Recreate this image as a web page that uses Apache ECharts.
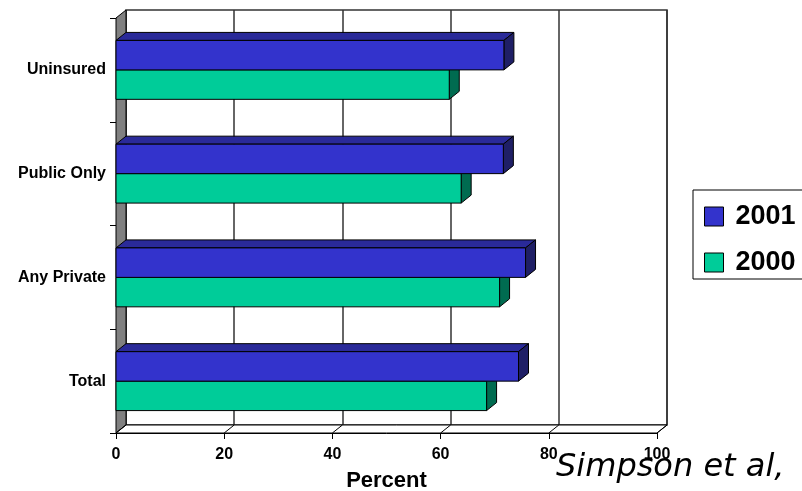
<!DOCTYPE html>
<html><head><meta charset="utf-8">
<script src="https://cdn.jsdelivr.net/npm/echarts@6/dist/echarts.min.js"></script>
<style>html,body{margin:0;padding:0;background:#fff}#c{width:802px;height:491px}</style>
</head><body><div id="c"></div>
<script>
// ---- data ----
const categories = ['Total', 'Any Private', 'Public Only', 'Uninsured'];
const values2001 = [74.4, 75.7, 71.6, 71.7];
const values2000 = [68.5, 70.9, 63.8, 61.6];
const xTicks = [0, 20, 40, 60, 80, 100];
const seriesNames = ['2001', '2000'];
const axisTitle = 'Percent';
const sourceNote = 'Simpson et al,';

// ---- style ----
const DX = 10, DY = -8;
const FONT = 'Liberation Sans, Arial, sans-serif';

function poly(points, fill) {
  return { type: 'polygon', shape: { points: points }, style: { fill: fill, stroke: '#000', lineWidth: 1 } };
}

function barRender(upper, cFront, cTop, cSide) {
  return function (params, api) {
    const v = api.value(0), cat = api.value(1);
    const p0 = api.coord([0, cat]);
    const p1 = api.coord([v, cat]);
    const band = api.size([0, 1])[1];
    const h = band * 0.284;
    const yTop = upper ? p0[1] - h : p0[1];
    const yBot = yTop + h;
    const x0 = p0[0], x1 = p1[0];
    return { type: 'group', children: [
      poly([[x0, yTop], [x1, yTop], [x1 + DX, yTop + DY], [x0 + DX, yTop + DY]], cTop),
      poly([[x1, yTop], [x1 + DX, yTop + DY], [x1 + DX, yBot + DY], [x1, yBot]], cSide),
      { type: 'rect', shape: { x: x0, y: yTop, width: x1 - x0, height: h }, style: { fill: cFront, stroke: '#000', lineWidth: 1 } }
    ] };
  };
}

function wallRender(params, api) {
  const band = api.size([0, 1])[1];
  const top = api.coord([0, categories.length - 1])[1] - band / 2;
  const bot = api.coord([0, 0])[1] + band / 2;
  const x0 = api.coord([xTicks[0], 0])[0];
  const x1 = api.coord([xTicks[xTicks.length - 1], 0])[0];
  const children = [
    poly([[x0, top], [x0 + DX, top + DY], [x0 + DX, bot + DY], [x0, bot]], '#808080'),
    poly([[x0, bot], [x1, bot], [x1 + DX, bot + DY], [x0 + DX, bot + DY]], '#ffffff')
  ];
  xTicks.forEach(function (t) {
    const x = api.coord([t, 0])[0];
    children.push({ type: 'line', shape: { x1: x, y1: bot, x2: x + DX, y2: bot + DY }, style: { stroke: '#000', lineWidth: 1 } });
  });
  return { type: 'group', children: children };
}

const chart = echarts.init(document.getElementById('c'), null, { renderer: 'canvas' });
chart.setOption({
  animation: false,
  backgroundColor: '#fff',
  textStyle: { fontFamily: FONT },
  grid: [
    { left: 116, right: 145, top: 18, bottom: 58, containLabel: false, outerBoundsMode: 'none' },
    { left: 126, right: 135, top: 10, bottom: 66, containLabel: false, outerBoundsMode: 'none', show: true, borderColor: '#333', borderWidth: 1.5, backgroundColor: '#fff', z: 0 }
  ],
  xAxis: [
    { type: 'value', gridIndex: 0, min: 0, max: 100, interval: 20,
      axisLine: { show: true, lineStyle: { color: '#000', width: 1 } },
      axisTick: { show: true, length: 6, lineStyle: { color: '#000' } },
      axisLabel: { fontSize: 16, fontWeight: 'bold', color: '#000', margin: 14, fontFamily: FONT },
      splitLine: { show: false },
      name: axisTitle, nameLocation: 'middle', nameGap: 37,
      nameTextStyle: { fontSize: 22, fontWeight: 'bold', color: '#000', fontFamily: FONT } },
    { type: 'value', gridIndex: 1, min: 0, max: 100, interval: 20,
      axisLine: { show: false }, axisTick: { show: false }, axisLabel: { show: false },
      splitLine: { show: true, lineStyle: { color: '#333', width: 1.5 } } }
  ],
  yAxis: [
    { type: 'category', gridIndex: 0, data: categories,
      axisLine: { show: true, lineStyle: { color: '#000' } },
      axisTick: { show: true, length: 6, lineStyle: { color: '#000' } },
      axisLabel: { fontSize: 16, fontWeight: 'bold', color: '#000', margin: 10, fontFamily: FONT },
      splitLine: { show: false } },
    { type: 'category', gridIndex: 1, data: categories,
      axisLine: { show: false }, axisTick: { show: false }, axisLabel: { show: false }, splitLine: { show: false } }
  ],
  legend: {
    data: seriesNames, orient: 'vertical', left: 693, top: 190,
    padding: [13, 40, 3, 11], itemWidth: 19, itemHeight: 19, itemGap: 19,
    borderColor: '#000', borderWidth: 1, backgroundColor: '#fff',
    icon: 'rect',
    itemStyle: { borderColor: '#000', borderWidth: 1 },
    textStyle: { fontSize: 27, fontWeight: 'bold', color: '#000', lineHeight: 24, fontFamily: FONT, padding: [0, 0, 0, 7] }
  },
  graphic: [
    { type: 'text', left: 556, top: 452, z: 100,
      style: { text: sourceNote, font: 'italic 32px "DejaVu Sans", sans-serif', fill: '#000' } }
  ],
  series: [
    { type: 'custom', name: 'walls', xAxisIndex: 0, yAxisIndex: 0, z: 1, silent: true,
      renderItem: wallRender, data: [[0, 0]] },
    { type: 'custom', name: seriesNames[1], xAxisIndex: 0, yAxisIndex: 0, z: 2,
      itemStyle: { color: '#00CC99' },
      renderItem: barRender(false, '#00CC99', '#009973', '#006B50'),
      data: values2000.map(function (v, i) { return [v, i]; }) },
    { type: 'custom', name: seriesNames[0], xAxisIndex: 0, yAxisIndex: 0, z: 3,
      itemStyle: { color: '#3333CC' },
      renderItem: barRender(true, '#3333CC', '#2A2A99', '#1F1F66'),
      data: values2001.map(function (v, i) { return [v, i]; }) }
  ]
});
</script>
</body></html>
